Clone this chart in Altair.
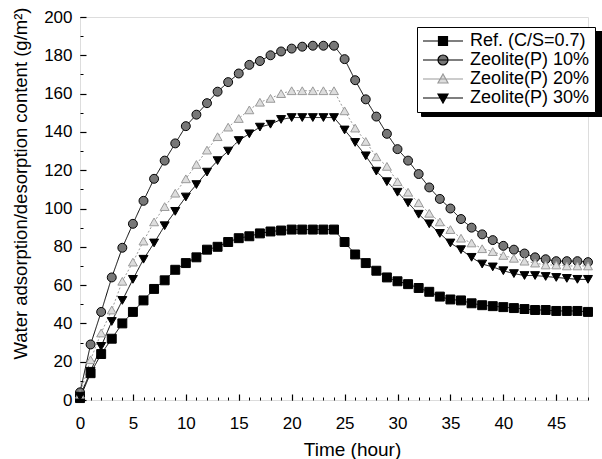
import altair as alt
import pandas as pd

hours = list(range(49))
ref = [1, 14, 24, 32, 40, 46, 52, 58, 62.5, 68, 71.5, 74.5, 78.5, 80, 82.5, 84.5, 85.5, 87, 88, 88.5,
       89, 89, 89, 89, 89, 82.5, 76, 71.5, 67.5, 64, 62, 60.5, 58.5, 56.5, 54, 52.5, 52, 50.5, 49.5, 49,
       48.5, 48, 47.5, 47, 47, 46.5, 46.5, 46.5, 46]
z10 = [4, 29, 46, 64, 79.5, 92, 104, 115.5, 125, 134, 143, 149, 155, 161, 166, 170.5, 175, 177, 180, 182,
       183.5, 184.5, 185, 185, 185, 178, 167, 157, 148, 139, 131, 125, 118, 111, 105, 100, 94.5, 90, 86.5, 83.5,
       80.5, 78.5, 76.5, 74.5, 73.5, 72.5, 72.5, 72.5, 72]
z20 = [3, 21, 35, 47, 62, 72, 83, 93, 101, 108, 115.5, 123, 130.5, 137.5, 142.5, 147, 151.5, 155.5, 157.5, 160,
       161.5, 161.5, 161.5, 161.5, 161.5, 151, 142, 135, 127, 122, 114, 108.5, 103, 97.5, 93, 89, 84.5, 82, 79, 77.5,
       75.5, 74, 72.5, 71.5, 70.5, 70.5, 70, 70, 70]
z30 = [2, 15, 28, 41, 52, 63, 73.5, 82, 91, 98.5, 106, 112.5, 119, 125, 130, 135.5, 139, 142.5, 144, 146.5,
       147.5, 147.5, 147.5, 147.5, 147.5, 141, 134.5, 127.5, 119.5, 114, 108.5, 103, 97, 92, 87, 82, 78.5, 74.5, 71, 69.5,
       67.5, 66, 65, 65, 64.5, 64, 63.5, 63, 63]
series_names = ["Ref. (C/S=0.7)", "Zeolite(P) 10%", "Zeolite(P) 20%", "Zeolite(P) 30%"]

rows = []
for name, vals in zip(series_names, [ref, z10, z20, z30]):
    for h, v in zip(hours, vals):
        rows.append({"hour": h, "value": v, "series": name})
df = pd.DataFrame(rows)

FONT = "Liberation Sans"
xscale = alt.Scale(domain=[0, 48], nice=False, zero=False)
yscale = alt.Scale(domain=[0, 200], nice=False)

line_colors = ["#000000", "#000000", "#9a9a9a", "#000000"]
line_dash = [[1, 0], [1, 0], [2, 2], [1, 0]]
pt_shapes = ["square", "circle", "triangle-up", "triangle-down"]
pt_fill = ["#000000", "#777777", "#dddddd", "#000000"]
pt_stroke = ["#000000", "#000000", "#9a9a9a", "#000000"]
leg_paths = [
    "M-4,0H4M-0.9,-0.9H0.9V0.9H-0.9Z",
    "M-4,0H4M-1,0A1,1 0 1,0 1,0A1,1 0 1,0 -1,0Z",
    "M-4,0H4M0,-1L1,0.8H-1Z",
    "M-4,0H4M-1,-0.8H1L0,1Z",
]

base = alt.Chart(df)

lines = base.mark_line(strokeWidth=1).encode(
    x=alt.X("hour:Q", scale=xscale, axis=None),
    y=alt.Y("value:Q", scale=yscale, axis=None),
    color=alt.Color("series:N", scale=alt.Scale(domain=series_names, range=line_colors), legend=None),
    strokeDash=alt.StrokeDash("series:N", scale=alt.Scale(domain=series_names, range=line_dash), legend=None),
)

points = base.mark_point(filled=True, size=80, strokeWidth=1, opacity=1).encode(
    x=alt.X("hour:Q", scale=xscale, axis=alt.Axis(
        values=list(range(0, 46, 5)), orient="bottom", tickSize=6, offset=-6, domain=False, grid=False,
        labelPadding=15, labelFontSize=17, labelFont=FONT, labelColor="black", tickColor="black",
        tickWidth=1.2, labelFlush=False, title="Time (hour)", titleFont=FONT, titleFontSize=19,
        titleFontWeight="normal", titleColor="black", titleX=272, titleY=55, titleBaseline="middle")),
    y=alt.Y("value:Q", scale=yscale, axis=alt.Axis(
        values=list(range(0, 201, 20)), orient="left", tickSize=6, offset=-6, domain=False, grid=False,
        labelPadding=8, labelFontSize=17, labelFont=FONT, labelColor="black", tickColor="black",
        tickWidth=1.2, labelFlush=False, title="Water adsorption/desorption content (g/m²)",
        titleFont=FONT, titleFontSize=18.5, titleFontWeight="normal", titleColor="black",
        titleAngle=-90, titleX=-66, titleY=166, titleBaseline="middle", titleAlign="center")),
    shape=alt.Shape("series:N", scale=alt.Scale(domain=series_names, range=pt_shapes), legend=None),
    fill=alt.Fill("series:N", scale=alt.Scale(domain=series_names, range=pt_fill), legend=None),
    stroke=alt.Stroke("series:N", scale=alt.Scale(domain=series_names, range=pt_stroke), legend=None),
)

leg = dict(title=None, orient="none", legendX=337, legendY=10, padding=5,
           strokeColor="black", fillColor="white", labelFont=FONT, labelFontSize=18,
           labelColor="black", symbolSize=100, symbolStrokeWidth=1.2, symbolOffset=12,
           labelOffset=18, rowPadding=1, labelLimit=300)
shadow_leg = dict(leg, legendX=341, legendY=14, strokeColor="black", fillColor="black",
                  labelColor="black", symbolStrokeWidth=0, labelExpr="''", labelOffset=150)

shadow_layer = base.transform_filter("false").mark_point(filled=True, size=100, opacity=1).encode(
    x=alt.X("hour:Q", scale=xscale, axis=None),
    y=alt.Y("value:Q", scale=yscale, axis=None),
    color=alt.Color("series:N", scale=alt.Scale(domain=series_names, range=["#000000"] * 4),
                    legend=alt.Legend(**shadow_leg)),
)

legend_layer = base.transform_filter("false").mark_point(filled=True, size=100, strokeWidth=1.2, opacity=1).encode(
    x=alt.X("hour:Q", scale=xscale, axis=None),
    y=alt.Y("value:Q", scale=yscale, axis=None),
    shape=alt.Shape("series:N", scale=alt.Scale(domain=series_names, range=leg_paths), legend=alt.Legend(**leg)),
    fill=alt.Fill("series:N", scale=alt.Scale(domain=series_names, range=pt_fill), legend=alt.Legend(**leg)),
    stroke=alt.Stroke("series:N", scale=alt.Scale(domain=series_names, range=pt_stroke), legend=alt.Legend(**leg)),
)

minor = base.transform_filter("false").mark_point().encode(
    x=alt.X("hour:Q", scale=xscale, axis=alt.Axis(
        values=hours, orient="bottom", tickSize=3, offset=-3, domain=False, grid=False,
        labels=False, title=None, tickColor="black", tickWidth=1)),
    y=alt.Y("value:Q", scale=yscale, axis=alt.Axis(
        values=list(range(0, 201, 10)), orient="left", tickSize=3, offset=-3, domain=False, grid=False,
        labels=False, title=None, tickColor="black", tickWidth=1)),
)

chart = alt.layer(lines, points, shadow_layer, legend_layer, minor).resolve_scale(
    shape="independent", fill="independent", stroke="independent", color="independent"
).resolve_axis(x="independent", y="independent").properties(
    width=508, height=383,
    padding={"left": 80, "top": 17, "right": 14, "bottom": 59},
    autosize=alt.AutoSizeParams(type="none"),
).configure_view(stroke="black", strokeWidth=1.5).configure(background="white")

chart.save("out.html", embed_options={"renderer": "svg", "actions": False})
